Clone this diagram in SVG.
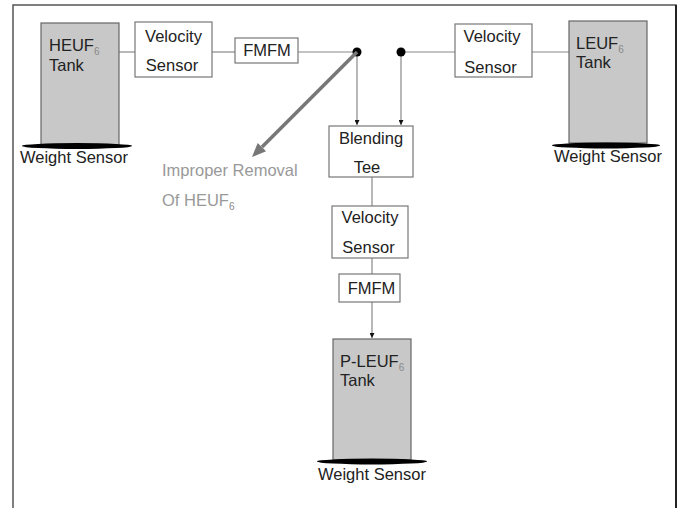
<svg xmlns="http://www.w3.org/2000/svg" width="680" height="508" viewBox="0 0 680 508">
  <style>
    text { font-family: "Liberation Sans", Arial, sans-serif; font-size: 16.5px; fill: #222; }
    .sub { font-size: 10px; fill: #888; }
    .note { fill: #999; }
    .box { fill: #fff; stroke: #777; stroke-width: 1.2; }
    .tank { fill: #c8c8c8; stroke: #666; stroke-width: 1.2; }
    .pad { fill: #000; }
    .pipe { fill: none; stroke: #888; stroke-width: 1.2; }
  </style>
  <defs>
    <marker id="tip" viewBox="0 0 10 10" refX="10" refY="5" markerWidth="5" markerHeight="5" markerUnits="userSpaceOnUse" orient="auto">
      <path d="M0,0 L10,5 L0,10 z" fill="#111"/>
    </marker>
  </defs>

  <rect width="680" height="508" fill="#fff"/>
  <!-- frame (open at the bottom) -->
  <path d="M13,508 V5 H676 V508" fill="none" stroke="#555" stroke-width="1.5"/>
  <line x1="676" y1="5" x2="676" y2="508" stroke="#222" stroke-width="2"/>

  <g id="connectors">
    <line class="pipe" x1="119" y1="52" x2="135" y2="52"/>
    <line class="pipe" x1="212" y1="52" x2="235" y2="52"/>
    <line class="pipe" x1="298" y1="52" x2="357" y2="52"/>
    <line class="pipe" x1="401" y1="52" x2="455" y2="52"/>
    <line class="pipe" x1="532" y1="52" x2="569" y2="52"/>
    <line class="pipe" x1="357" y1="52" x2="357" y2="125" marker-end="url(#tip)"/>
    <line class="pipe" x1="401" y1="52" x2="401" y2="125" marker-end="url(#tip)"/>
    <line class="pipe" x1="372" y1="177" x2="372" y2="206"/>
    <line class="pipe" x1="372" y1="258" x2="372" y2="274"/>
    <line class="pipe" x1="372" y1="302" x2="372" y2="338" marker-end="url(#tip)"/>
    <circle cx="357" cy="52" r="4.5" fill="#000"/>
    <circle cx="401" cy="52" r="4.5" fill="#000"/>
    <!-- removal path -->
    <line x1="357" y1="52" x2="262" y2="147" stroke="#777" stroke-width="3.5"/>
    <polygon points="252,157 266.1,151.3 257.7,142.9" fill="#777"/>
  </g>

  <g id="heuf-tank">
    <rect class="tank" x="41" y="23" width="78" height="122"/>
    <ellipse class="pad" cx="77" cy="146" rx="55" ry="3"/>
    <text x="49" y="51">HEUF<tspan class="sub" dy="4">6</tspan></text>
    <text x="49" y="71">Tank</text>
    <text x="20" y="163">Weight Sensor</text>
  </g>

  <g id="velocity-left">
    <rect class="box" x="135" y="22" width="77" height="55"/>
    <text x="173.5" y="42" text-anchor="middle">Velocity</text>
    <text x="172" y="71" text-anchor="middle">Sensor</text>
  </g>

  <g id="fmfm-top">
    <rect class="box" x="235" y="38" width="63" height="25"/>
    <text x="267" y="56" text-anchor="middle">FMFM</text>
  </g>

  <g id="velocity-right">
    <rect class="box" x="455" y="24" width="77" height="53"/>
    <text x="492" y="42" text-anchor="middle">Velocity</text>
    <text x="490.5" y="73" text-anchor="middle">Sensor</text>
  </g>

  <g id="leuf-tank">
    <rect class="tank" x="569" y="21" width="78" height="122"/>
    <ellipse class="pad" cx="606" cy="145.5" rx="54" ry="3"/>
    <text x="576" y="49">LEUF<tspan class="sub" dy="4">6</tspan></text>
    <text x="576" y="68">Tank</text>
    <text x="554" y="162">Weight Sensor</text>
  </g>

  <g id="blending-tee">
    <rect class="box" x="329" y="126" width="84" height="51"/>
    <text x="371" y="144" text-anchor="middle">Blending</text>
    <text x="367" y="173" text-anchor="middle">Tee</text>
  </g>

  <g id="removal-note">
    <text class="note" x="162" y="176">Improper Removal</text>
    <text class="note" x="162" y="206">Of HEUF<tspan class="sub" dy="4">6</tspan></text>
  </g>

  <g id="velocity-bottom">
    <rect class="box" x="332" y="206" width="76" height="52"/>
    <text x="370" y="223" text-anchor="middle">Velocity</text>
    <text x="368.5" y="253" text-anchor="middle">Sensor</text>
  </g>

  <g id="fmfm-bottom">
    <rect class="box" x="339" y="274" width="61" height="28"/>
    <text x="371.5" y="294" text-anchor="middle">FMFM</text>
  </g>

  <g id="pleuf-tank">
    <rect class="tank" x="333" y="339" width="78" height="121"/>
    <ellipse class="pad" cx="372" cy="461.5" rx="55" ry="3"/>
    <text x="340" y="367">P-LEUF<tspan class="sub" dy="4">6</tspan></text>
    <text x="340" y="386">Tank</text>
    <text x="318" y="480">Weight Sensor</text>
  </g>
</svg>
